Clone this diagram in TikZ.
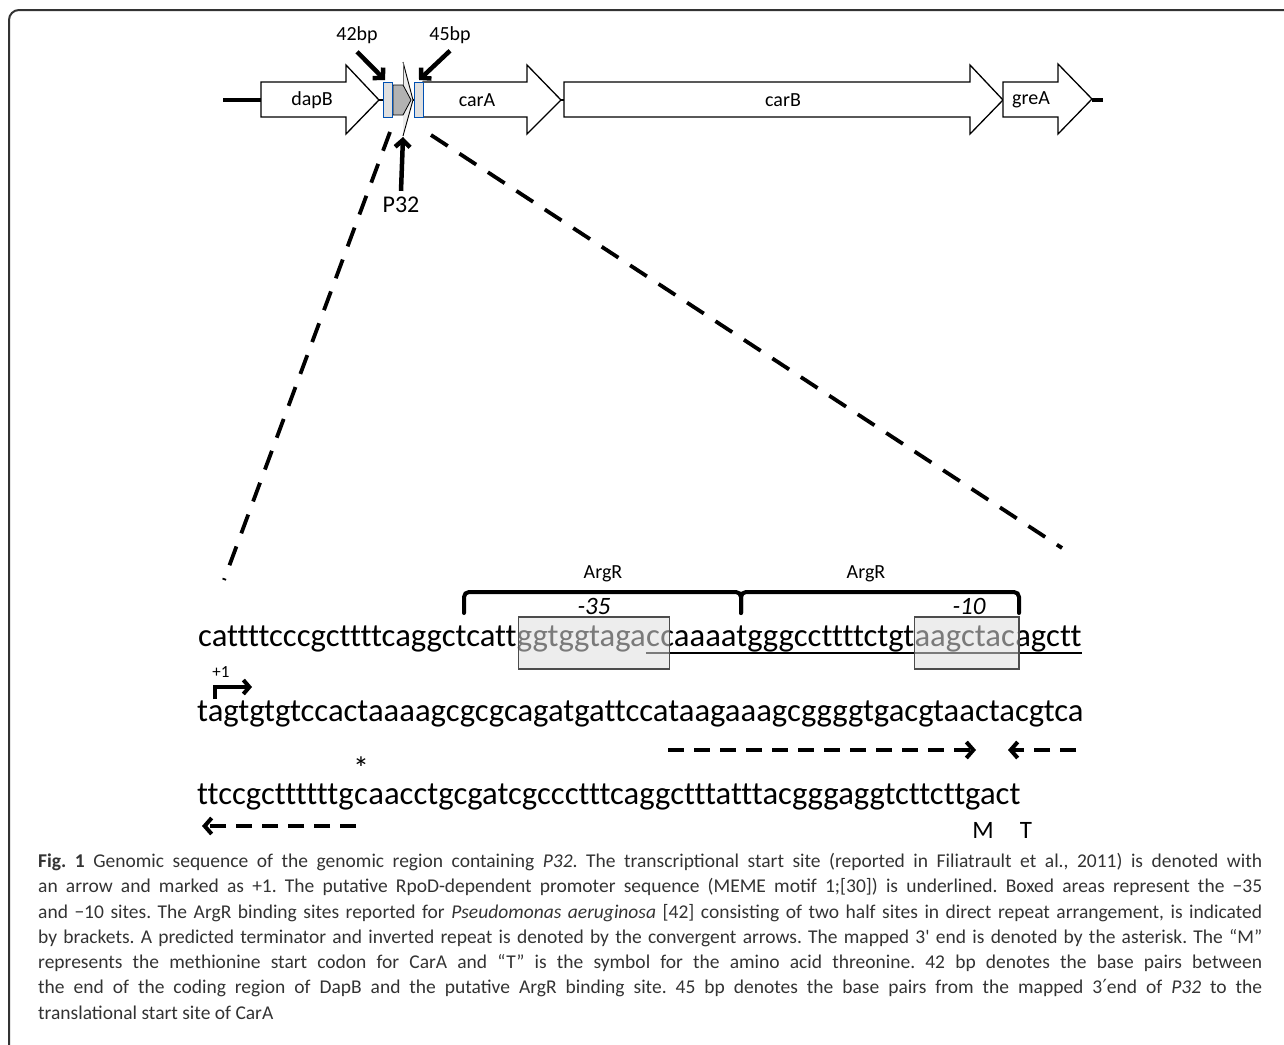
\documentclass[tikz,border=0pt]{standalone}
\usepackage{fontspec}
\setmainfont{Carlito}
\newfontfamily\dejavu{DejaVu Sans}
\newfontfamily\seqfont[Ligatures=NoCommon]{Carlito}
\usetikzlibrary{arrows.meta,calc}
\begin{document}
\begin{tikzpicture}[x=1pt,y=-1pt,
  gene/.style={draw=black, line width=1.3pt, fill=white, line join=miter},
  axisline/.style={line width=3.5pt, black},
  glabel/.style={font=\fontsize{20}{22}\selectfont, inner sep=0pt},
  site/.style={draw=blue!55!cyan!70!black, line width=1pt, fill=gray!25},
  ptr/.style={line width=4.5pt, -{Straight Barb[length=7pt,width=15pt]}},
  zoomline/.style={line width=3.8pt, dash pattern=on 20pt off 14pt},
  seq/.style={inner sep=0pt, anchor=base west, font=\seqfont\fontsize{32.7}{36}\selectfont},
  boxmark/.style={draw=black!70, line width=1.3pt, fill=gray!25, fill opacity=0.55},
  bracket/.style={line width=4pt, rounded corners=5pt, line cap=round},
  dashar/.style={line width=4pt, dash pattern=on 16pt off 10pt, -{Straight Barb[length=7pt,width=16pt]}},
  small/.style={inner sep=0pt, font=\fontsize{20}{22}\selectfont},
  ital/.style={inner sep=0pt, font=\fontsize{25}{27}\selectfont\itshape}
]
\useasboundingbox (0,0) rectangle (1284,1044);
% frame
\draw[line width=2pt, black!80] (9,1050) -- (9,20) arc[start angle=180, end angle=270, radius=10] -- (1290,10);

% ---------- gene map ----------
\coordinate (axL) at (223,100);
\coordinate (axA) at (261,100);
\draw[axisline] (axL) -- (axA);
\draw[line width=2.5pt] (379,100) -- (423,100);
\draw[line width=2.5pt] (561,100) -- (564,100);
\coordinate (axR) at (1103,100);
\coordinate (axG) at (1092,100);
\draw[axisline] (axG) -- (axR);

\draw[gene] (261,82) -- (346,82) -- (346,65) -- (379,100) -- (346,134) -- (346,117) -- (261,117) -- cycle;
\node[glabel] (dapB) at (312,100) {dapB};
\draw[gene] (423,82) -- (527,82) -- (527,65) -- (561,100) -- (527,134) -- (527,117) -- (423,117) -- cycle;
\node[glabel] (carA) at (477,100) {carA};
\draw[gene] (564,82) -- (970,82) -- (970,65) -- (1003,100) -- (970,134) -- (970,117) -- (564,117) -- cycle;
\node[glabel] (carB) at (783,100) {carB};
\draw[gene] (1003,82) -- (1058,82) -- (1058,64) -- (1092,99) -- (1058,134) -- (1058,117) -- (1003,117) -- cycle;
\node[glabel] (greA) at (1031,100) {greA};

% promoter P32
\fill[gray!15] (403,62) -- (413,100) -- (403,136) -- cycle;
\draw[line width=0.8pt, fill=gray!60] (393,85) -- (403,85) -- (411,100) -- (403,115) -- (393,115) -- cycle;
\draw[line width=0.9pt] (403,62) -- (413,100) -- (403,136);
\draw[line width=0.6pt, black!60] (403,62) -- (403,85);
\draw[site] (383,82) rectangle (392,117);
\draw[site] (414,82) rectangle (423,117);

\node[small] (l42) at (357,35) {42bp};
\node[small] (l45) at (450,35) {45bp};
\node[inner sep=0pt, font=\fontsize{24}{26}\selectfont] (lp32) at (401,205) {P32};
\coordinate (t42) at (385,80);
\coordinate (t45) at (419,80);
\coordinate (tp32) at (403,137);
\draw[ptr] ($(l42.south)+(0,8)$) -- (t42);
\draw[ptr] ($(l45.south)+(0,7)$) -- (t45);
\draw[ptr] ($(lp32.north)+(0,-6)$) -- (tp32);

% zoom lines
\coordinate (zl1) at (390,132);
\coordinate (zl2) at (224,580);
\coordinate (zr1) at (431,135);
\coordinate (zr2) at (1062,548);
\draw[zoomline] (zl1) -- (zl2);
\draw[zoomline] (zr1) -- (zr2);

% ---------- sequence line 1 ----------
\node[seq] (a1) at (198,646) {cattttcccgcttttcaggctcatt};
\node[seq] (a2) at (a1.base east) {ggtggtaga};
\node[seq] (a3) at (a2.base east) {c};
\node[seq] (a4) at (a3.base east) {caaaatgggccttttctgt};
\node[seq] (a5) at (a4.base east) {aagctac};
\node[seq] (a6) at (a5.base east) {agctt};
\draw[line width=1.8pt] ($(a3.base west)+(0,7)$) -- ($(a6.base east)+(0,7)$);
\draw[boxmark] ($(a2.base west)+(2,-29)$) rectangle ($(a4.base west)+(9,23)$);
\draw[boxmark] ($(a5.base west)+(0,-29)$) rectangle ($(a6.base west)+(4,23)$);

% brackets
\draw[bracket] (464,613) -- (464,592) -- (741,592) -- (741,613);
\draw[bracket] (741,613) -- (741,592) -- (1019,592) -- (1019,613);
\node[small] (argr1) at (603,574) {ArgR};
\node[small] (argr2) at (866,574) {ArgR};
\node[ital] (m35) at (594,606) {-35};
\node[ital] (m10) at (969,606) {-10};

% ---------- sequence line 2 ----------
\node[seq] (b1) at (197,721) {tagtgtgtccactaaaagcgcgcagatgattccataagaaagcggggtgacgtaactacgtca};
\node[inner sep=0pt, font=\fontsize{17}{19}\selectfont] (plus1) at (221,672) {+1};
\coordinate (tss0) at (215,699);
\coordinate (tss1) at (215,687);
\coordinate (tss2) at (252,687);
\draw[line width=4pt, -{Straight Barb[length=6pt,width=14pt]}] (tss0) -- (tss1) -- (tss2);
\coordinate (d1s) at (668,750);
\coordinate (d1e) at (976,750);
\coordinate (d2s) at (1076,750);
\coordinate (d2e) at (1008,750);
\draw[dashar] (d1s) -- (d1e);
\draw[dashar] (d2s) -- (d2e);

% ---------- sequence line 3 ----------
\node[seq] (c1) at (197,804) {ttccgcttttttg};
\node[seq] (c2) at (c1.base east) {c};
\node[seq] (c3) at (c2.base east) {aacctgcgatcgccctttcaggctttatttacgggaggtcttcttgact};
\node[inner sep=0pt, font=\fontsize{32}{34}\selectfont] (ast) at ($(c2.base)+(0,-36)$) {*};
\coordinate (d3s) at (356,826);
\coordinate (d3e) at (202,826);
\draw[dashar] (d3s) -- (d3e);
\node[inner sep=0pt, font=\fontsize{25}{27}\selectfont] (M) at (983,830) {M};
\node[inner sep=0pt, font=\fontsize{25}{27}\selectfont] (T) at (1026,830) {T};

% ---------- caption ----------
\node[anchor=north west, inner sep=0pt, text width=1224pt, align=justify,
      font=\fontsize{19.5}{25.3}\selectfont\frenchspacing, text=black!80] (cap) at (38,853)
{\textbf{Fig. 1} Genomic sequence of the genomic region containing \textit{P32}. The transcriptional start site (reported in Filiatrault et al., 2011) is denoted with\linebreak
an arrow and marked as +1. The putative RpoD-dependent promoter sequence (MEME motif 1;[30]) is underlined. Boxed areas represent the −35\linebreak
and −10 sites. The ArgR binding sites reported for \textit{Pseudomonas aeruginosa} [42] consisting of two half sites in direct repeat arrangement, is indicated\linebreak
by brackets. A predicted terminator and inverted repeat is denoted by the convergent arrows. The mapped 3\textquotesingle{} end is denoted by the asterisk. The “M”\linebreak
represents the methionine start codon for CarA and “T” is the symbol for the amino acid threonine. 42 bp denotes the base pairs between\linebreak
the end of the coding region of DapB and the putative ArgR binding site. 45 bp denotes the base pairs from the mapped 3{\dejavu ′}end of \textit{P32} to the\linebreak
translational start site of CarA};
\end{tikzpicture}
\end{document}
